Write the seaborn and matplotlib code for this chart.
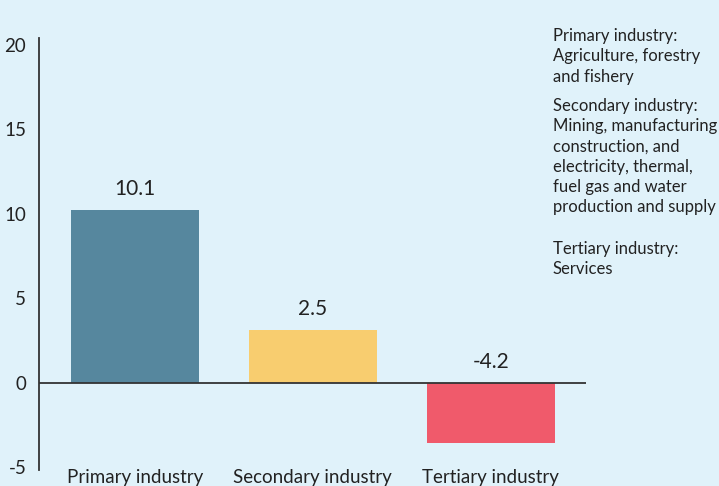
import seaborn as sns
import matplotlib.pyplot as plt

categories = ["Primary industry", "Secondary industry", "Tertiary industry"]
bar_heights = [10.2, 3.1, -3.55]
bar_labels = ["10.1", "2.5", "-4.2"]
bar_colors = ["#56879e", "#f8cd6f", "#f05a6b"]
y_ticks = [-5, 0, 5, 10, 15, 20]
notes = [
    "Primary industry:\nAgriculture, forestry\nand fishery",
    "Secondary industry:\nMining, manufacturing\nconstruction, and\nelectricity, thermal,\nfuel gas and water\nproduction and supply",
    "Tertiary industry:\nServices",
]

bg = "#e0f2fa"
sns.set_style("white")
plt.rcParams["font.family"] = ["Lato", "DejaVu Sans"]

fig = plt.figure(figsize=(7.19, 4.86), dpi=100, facecolor=bg)
ax = fig.add_axes([0.054, 0.033, 0.761, 0.889], facecolor=bg)

sns.barplot(x=categories, y=bar_heights, hue=categories, palette=bar_colors,
            width=0.72, legend=False, saturation=1, linewidth=0, ax=ax)

# value labels sit above the bar top, or above zero for the negative bar
for i, (h, lab) in enumerate(zip(bar_heights, bar_labels)):
    ax.annotate(lab, (i, max(h, 0)), xytext=(0, 8), textcoords="offset points",
                ha="center", va="bottom", fontsize=15, color="#222222")

ax.axhline(0, color="#333333", lw=1.3)
ax.set_xlim(-0.539, 2.534)
ax.set_ylim(-5.15, 20.4)
ax.set_yticks(y_ticks)
ax.set_yticklabels([str(t) for t in y_ticks])
ax.tick_params(axis="y", length=0, labelsize=13.5, colors="#222222", pad=9)
ax.tick_params(axis="x", length=0, labelsize=13.5, colors="#222222", pad=-1)
for s in ["top", "right", "bottom"]:
    ax.spines[s].set_visible(False)
ax.spines["left"].set_color("#333333")
ax.spines["left"].set_linewidth(1.3)

for block, top_px in zip(notes, [28, 98, 241]):
    fig.text(0.769, 1 - top_px / 486, block, fontsize=12, va="top", ha="left",
             color="#222222", linespacing=1.33)

fig.savefig("out.png", dpi=100, facecolor=bg)
